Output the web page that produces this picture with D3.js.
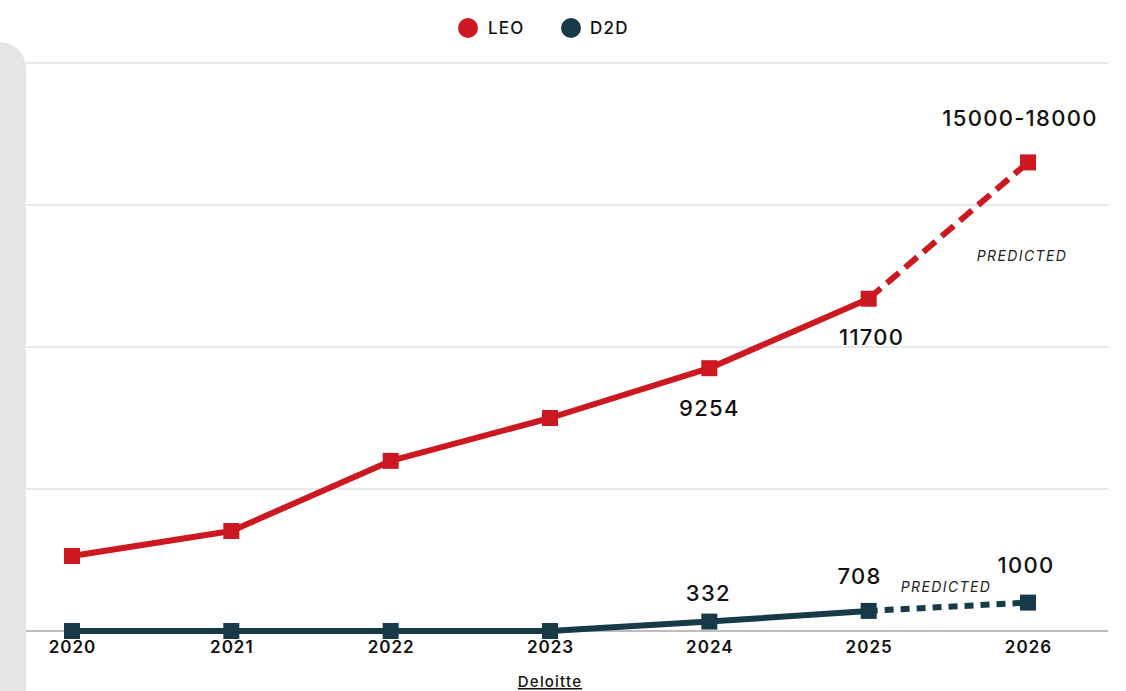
<!DOCTYPE html>
<html><head><meta charset="utf-8">
<script src="https://cdn.jsdelivr.net/npm/d3@7"></script>
<style>
html,body{margin:0;padding:0;background:#fff;}
svg{display:block;font-family:Inter,"Noto Sans",sans-serif;}
</style></head>
<body><svg id="c" width="1126" height="691"></svg>
<script>
const years = [2020, 2021, 2022, 2023, 2024, 2025, 2026];
const leoValues = [2640, 3520, 5990, 7500, 9254, 11700, 16500];
const d2dValues = [0, 0, 0, 0, 332, 708, 1000];
const yTicks = [0, 5000, 10000, 15000, 20000];
const seriesNames = ["LEO", "D2D"];
const leoLabels = [{year: 2024, text: "9254"}, {year: 2025, text: "11700"}, {year: 2026, text: "15000-18000"}];
const d2dLabels = [{year: 2024, text: "332"}, {year: 2025, text: "708"}, {year: 2026, text: "1000"}];
const sourceText = "Deloitte";
const predictedText = "PREDICTED";

const RED = "#cc1820", DARK = "#173a48";
const svg = d3.select("#c");
const x = d3.scaleLinear().domain([2020, 2026]).range([72, 1028]);
const y = d3.scaleLinear().domain([0, 20000]).range([631, 63]);

// grid
svg.append("g").selectAll("line").data(yTicks.slice(1)).join("line")
  .attr("x1", 0).attr("x2", 1108).attr("y1", d => y(d)).attr("y2", d => y(d))
  .attr("stroke", "#d3d3d3").attr("stroke-width", 1);
svg.append("line").attr("x1", 0).attr("x2", 1108).attr("y1", y(0)).attr("y2", y(0))
  .attr("stroke", "#7a7a7a").attr("stroke-width", 1);

// gray panel
svg.append("rect").attr("x", -30).attr("y", 42).attr("width", 56).attr("height", 700)
  .attr("rx", 26).attr("fill", "#e5e5e5");

// x axis labels
const xAxis = d3.axisBottom(x).tickValues(years).tickFormat(d3.format("d")).tickSize(0).tickPadding(10);
const xg = svg.append("g").attr("transform", `translate(0,${y(0)})`).call(xAxis);
xg.select(".domain").remove();
xg.selectAll("text").attr("font-size", 17).attr("font-weight", 600).attr("fill", "#111")
  .attr("font-family", "Inter, sans-serif").attr("letter-spacing", 1);

const line = d3.line().x(d => x(d[0])).y(d => y(d[1]));
function drawSeries(vals, color, dash) {
  const pts = years.map((yr, i) => [yr, vals[i]]);
  const solid = pts.slice(0, 6), pred = pts.slice(5);
  svg.append("path").attr("d", line(pred)).attr("fill", "none").attr("stroke", color)
    .attr("stroke-width", 6).attr("stroke-dasharray", dash);
  svg.append("path").attr("d", line(solid)).attr("fill", "none").attr("stroke", color)
    .attr("stroke-width", 6).attr("stroke-linejoin", "round");
  svg.append("g").selectAll("rect").data(pts).join("rect")
    .attr("x", d => x(d[0]) - 8).attr("y", d => y(d[1]) - 8)
    .attr("width", 16).attr("height", 16).attr("fill", color);
}
drawSeries(d2dValues, DARK, "9,7");
drawSeries(leoValues, RED, "16,8");

// value labels
const lab = svg.append("g").attr("font-size", 22).attr("font-weight", 500).attr("fill", "#111")
  .attr("text-anchor", "middle").attr("letter-spacing", 1.3);
const leoOff = {2024: [0, 48], 2025: [3, 46], 2026: [-8, -36]};
leoLabels.forEach(l => {
  const i = years.indexOf(l.year);
  lab.append("text").attr("x", x(l.year) + leoOff[l.year][0]).attr("y", y(leoValues[i]) + leoOff[l.year][1]).text(l.text);
});
const d2dOff = {2024: [-1, -21], 2025: [-9, -27], 2026: [-2, -30]};
d2dLabels.forEach(l => {
  const i = years.indexOf(l.year);
  lab.append("text").attr("x", x(l.year) + d2dOff[l.year][0]).attr("y", y(d2dValues[i]) + d2dOff[l.year][1]).text(l.text);
});

// predicted
const pg = svg.append("g").attr("font-size", 14).attr("font-style", "italic").attr("fill", "#222")
  .attr("text-anchor", "middle").attr("letter-spacing", 1.4);
pg.append("text").attr("x", 1022).attr("y", 261).text(predictedText);
pg.append("text").attr("x", 946).attr("y", 592).text(predictedText);

// legend
const lg = svg.append("g").attr("font-size", 17).attr("font-weight", 500).attr("fill", "#111")
  .attr("letter-spacing", 1.2);
[[RED, 468, 488], [DARK, 571, 590]].forEach((c, i) => {
  lg.append("circle").attr("cx", c[1]).attr("cy", 28).attr("r", 10).attr("fill", c[0]);
  lg.append("text").attr("x", c[2]).attr("y", 34).text(seriesNames[i]);
});

// source
svg.append("text").attr("x", 550).attr("y", 687).attr("text-anchor", "middle")
  .attr("font-size", 15).attr("font-weight", 500).attr("fill", "#111").attr("letter-spacing", 1.2)
  .attr("text-decoration", "underline").text(sourceText);
</script></body></html>
